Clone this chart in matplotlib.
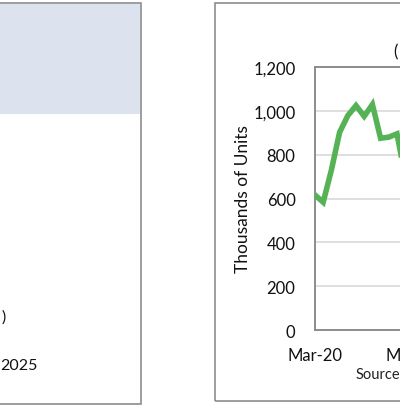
import matplotlib
matplotlib.use("Agg")
import matplotlib.pyplot as plt
from matplotlib.patches import Rectangle

# monthly values, thousands of units (Mar-20 .. Feb-21)
months = ["Mar-20", "Apr-20", "May-20", "Jun-20", "Jul-20", "Aug-20",
          "Sep-20", "Oct-20", "Nov-20", "Dec-20", "Jan-21", "Feb-21"]
units = [616, 583, 730, 902, 978, 1024, 975, 1029, 875, 880, 895, 700]
tick_pos = [0, 12]
tick_labels = ["Mar-20", "Mar-21"]
y_ticks = [0, 200, 400, 600, 800, 1000, 1200]

plt.rcParams['font.family'] = ['Lato', 'DejaVu Sans']

W, H = 400, 410
fig = plt.figure(figsize=(4, 4.1), dpi=100)


def fx(px):
    return px / W


def fy(py):
    return 1 - py / H


# left panel (table remnant)
fig.patches.append(Rectangle((fx(-10), fy(115)), fx(150), fy(5) - fy(115),
                             transform=fig.transFigure, facecolor="#dce3ef",
                             edgecolor="none", zorder=0))
fig.patches.append(Rectangle((fx(-10), fy(405)), fx(151), fy(4) - fy(405),
                             transform=fig.transFigure, facecolor="none",
                             edgecolor="#8c8c8c", linewidth=1.2, zorder=1))
fig.text(fx(6), fy(318), ")", ha="right", va="center", fontsize=11.5, color="#111111")
fig.text(fx(38), fy(366), "2025", ha="right", va="center", fontsize=11.5, color="#111111")

# right panel border
fig.patches.append(Rectangle((fx(215), fy(402)), fx(300), fy(4) - fy(402),
                             transform=fig.transFigure, facecolor="none",
                             edgecolor="#8c8c8c", linewidth=1.2, zorder=1))

# plot area: 8.2 px per month, extends beyond the right edge
left, top, bottom = 315, 68, 331
ax = fig.add_axes([fx(left), fy(bottom), fx(12 * 8.2), (bottom - top) / H])
ax.plot(range(len(units)), units, color="#55b255", linewidth=4,
        solid_joinstyle="miter", zorder=3)
ax.set_xlim(0, 12)
ax.set_ylim(0, 1200)
ax.set_yticks(y_ticks)
ax.set_yticklabels([f"{v:,}" for v in y_ticks])
ax.set_xticks(tick_pos)
ax.set_xticklabels(tick_labels)
ax.tick_params(axis="both", length=0, labelsize=12, colors="#111111")
ax.tick_params(axis="y", pad=14)
ax.tick_params(axis="x", pad=12)
ax.yaxis.grid(True, color="#d9d9d9", linewidth=1.2)
ax.set_axisbelow(True)
for side in ["left", "top", "bottom", "right"]:
    ax.spines[side].set_color("#8c8c8c")
    ax.spines[side].set_linewidth(1.4)
ax.set_ylabel("Thousands of Units", fontsize=12.5, color="#111111", labelpad=2)

fig.text(fx(393), fy(52), "(", ha="left", va="center", fontsize=12, color="#111111")
fig.text(fx(356), fy(375), "Source", ha="left", va="center", fontsize=10.5, color="#222222")

fig.savefig("out.png", dpi=100)
